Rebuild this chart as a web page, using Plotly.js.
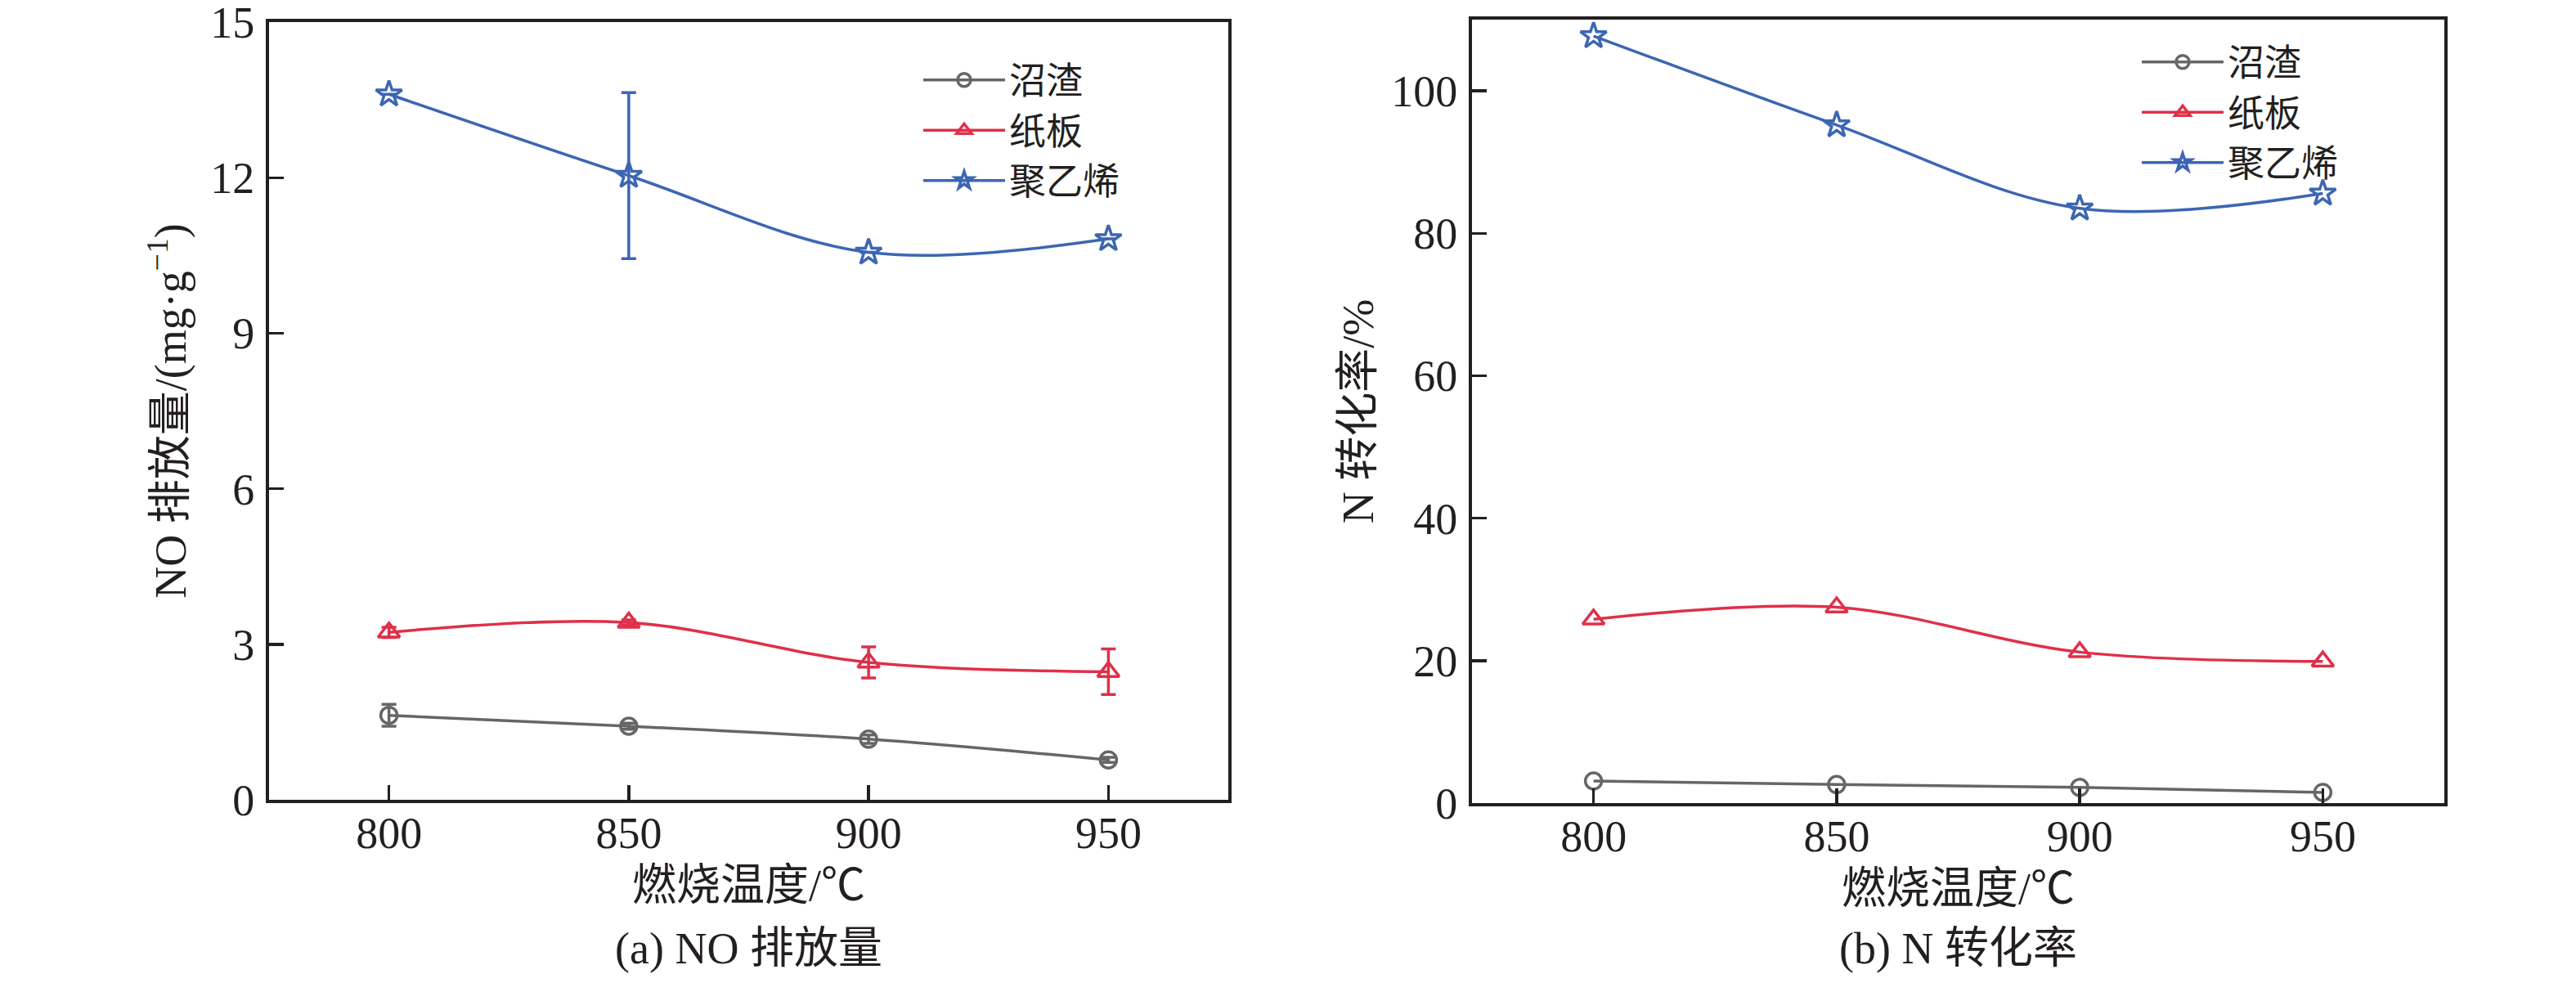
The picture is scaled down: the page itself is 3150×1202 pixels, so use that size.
<!DOCTYPE html>
<html>
<head>
<meta charset="utf-8">
<script src="https://cdn.plot.ly/plotly-3.0.1.min.js"></script>
<style>
  html, body { margin: 0; padding: 0; background: #fff; }
  #chart { width: 3150px; height: 1202px; }
</style>
</head>
<body>
<div id="chart"></div>
<script>
// burning temperature, deg C
let temps = [800, 850, 900, 950]
let names = ['沼渣', '纸板', '聚乙烯']

// (a) NO emission, mg/g
let noBiogas = [1.63, 1.42, 1.17, 0.77]
let noBiogasErr = [0.21, 0.06, 0.08, 0.05]
let noCard = [3.23, 3.42, 2.65, 2.47]
let noCardErr = [0.1, 0.05, 0.3, 0.44]
let noPE = [13.61, 12.04, 10.56, 10.82]
let noPEErr = [0, 1.6, 0, 0]

// (b) N conversion, %
let convBiogas = [3.1, 2.6, 2.2, 1.5]
let convCard = [25.8, 27.5, 21.2, 19.9]
let convPE = [107.7, 95.2, 83.5, 85.6]

let noTicks = [0, 3, 6, 9, 12, 15]
let convTicks = [0, 20, 40, 60, 80, 100]

let colors = ['#666666', '#df3049', '#3c66b4']
let symbols = ['circle-open', 'triangle-up-open', 'star-open']
let sizes = [20, 23, 24]
let axisColor = '#231f20'
let fontFam = "Liberation Serif, Noto Sans CJK SC, serif"

function makeTrace(i, ys, errs, xa, ya, leg){
  let t = {
    x: temps, y: ys, name: names[i],
    xaxis: xa, yaxis: ya, legend: leg,
    type: 'scatter', mode: 'lines+markers',
    line: {color: colors[i], width: 3.5, shape: 'spline'},
    marker: {symbol: symbols[i], size: sizes[i], color: colors[i],
             line: {color: colors[i], width: 3.5}}
  }
  if(errs){
    t.error_y = {type: 'data', array: errs, visible: true,
                 color: colors[i], thickness: 3.5, width: 9}
  }
  return t
}

let data = [
  makeTrace(0, noBiogas, noBiogasErr, 'x', 'y', 'legend'),
  makeTrace(1, noCard, noCardErr, 'x', 'y', 'legend'),
  makeTrace(2, noPE, noPEErr, 'x', 'y', 'legend'),
  makeTrace(0, convBiogas, null, 'x2', 'y2', 'legend2'),
  makeTrace(1, convCard, null, 'x2', 'y2', 'legend2'),
  makeTrace(2, convPE, null, 'x2', 'y2', 'legend2')
]

function axisBase(){
  return {
    showline: true, mirror: true, linecolor: axisColor, linewidth: 4,
    ticks: 'inside', ticklen: 18, tickwidth: 3.5, tickcolor: axisColor,
    showgrid: false, zeroline: false,
    tickfont: {family: fontFam, size: 54, color: axisColor},
    ticklabeloverflow: 'allow'
  }
}

let titleFont = {family: fontFam, size: 54, color: axisColor}

let xa = Object.assign(axisBase(), {
  domain: [329/3150, 1502/3150], range: [775, 975],
  tickvals: temps, anchor: 'y', ticklabelstandoff: -10,
  title: {text: '燃烧温度/℃', font: titleFont, standoff: 16}
})
let ya = Object.assign(axisBase(), {
  domain: [1 - 978/1202, 1 - 27/1202], range: [0, 15.002],
  tickvals: noTicks, anchor: 'x', ticklabelstandoff: 3,
  title: {text: 'NO 排放量/(mg·g<sup>−1</sup>)', font: titleFont, standoff: 13}
})
let xa2 = Object.assign(axisBase(), {
  domain: [1800/3150, 2989/3150], range: [775, 975],
  tickvals: temps, anchor: 'y2', ticklabelstandoff: -10,
  title: {text: '燃烧温度/℃', font: titleFont, standoff: 16}
})
let ya2 = Object.assign(axisBase(), {
  domain: [1 - 982/1202, 1 - 24/1202], range: [0, 110],
  tickvals: convTicks, anchor: 'x2', ticklabelstandoff: 3,
  title: {text: 'N 转化率/%', font: titleFont, standoff: 5}
})

let legendBase = {
  font: {family: fontFam, size: 45, color: axisColor},
  bgcolor: 'rgba(0,0,0,0)', borderwidth: 0,
  itemwidth: 100, xanchor: 'left', yanchor: 'top', tracegroupgap: 0
}

let layout = {
  width: 3150, height: 1202,
  margin: {l: 0, r: 0, t: 0, b: 0},
  font: {family: fontFam, color: axisColor},
  paper_bgcolor: '#fff', plot_bgcolor: '#fff',
  showlegend: true,
  xaxis: xa, yaxis: ya, xaxis2: xa2, yaxis2: ya2,
  legend: Object.assign({}, legendBase, {x: 1124/3150, y: 1 - 62/1202}),
  legend2: Object.assign({}, legendBase, {x: 2614/3150, y: 1 - 40/1202}),
  annotations: [
    {text: '(a) NO 排放量', xref: 'paper', yref: 'paper',
     x: (329 + 1502)/2/3150, y: 1 - 1160/1202, xanchor: 'center', yanchor: 'middle',
     showarrow: false, font: titleFont},
    {text: '(b) N 转化率', xref: 'paper', yref: 'paper',
     x: (1800 + 2989)/2/3150, y: 1 - 1160/1202, xanchor: 'center', yanchor: 'middle',
     showarrow: false, font: titleFont}
  ]
}

Plotly.newPlot('chart', data, layout, {staticPlot: true})
</script>
</body>
</html>
